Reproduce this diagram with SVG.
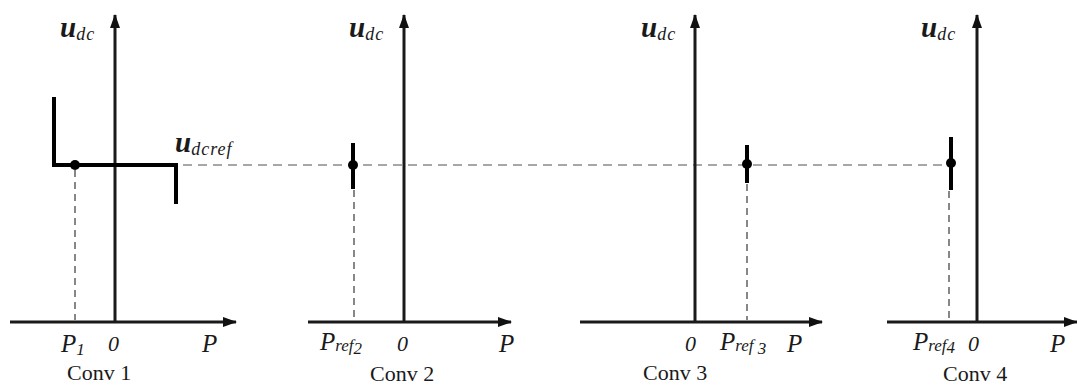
<svg xmlns="http://www.w3.org/2000/svg" width="1077" height="385" viewBox="0 0 1077 385">
<style>
.ax{stroke:#1a1a1a;stroke-width:3;fill:none}
.ch{stroke:#000;stroke-width:4;fill:none}
.dh{stroke:#8a8a8a;stroke-width:1.6;stroke-dasharray:9 6;fill:none}
.dv{stroke:#555;stroke-width:1.4;stroke-dasharray:7 5;fill:none}
.it{font-family:"Liberation Serif","Times New Roman",serif;font-style:italic;fill:#1a1a1a}
.rm{font-family:"Liberation Serif","Times New Roman",serif;fill:#1a1a1a;font-size:22px}
.u{font-size:29px;font-weight:bold}
.sb{font-size:18px;letter-spacing:1px}
.ps{font-size:17px}
.p{font-size:25px}
.z{font-size:22px}
</style>
<defs>
<marker id="ah" viewBox="0 0 14 10" refX="13" refY="5" markerWidth="14" markerHeight="10" markerUnits="userSpaceOnUse" orient="auto">
<path d="M0,0 L14,5 L0,10 Z" fill="#111"/>
</marker>
</defs>
<rect width="1077" height="385" fill="#fff"/>
<g id="connectors">
<line class="dh" x1="183" y1="165" x2="946" y2="165"/>
</g>
<g id="conv1">
<line class="ax" x1="10" y1="322" x2="236" y2="322" marker-end="url(#ah)"/>
<line class="ax" x1="115" y1="322" x2="115" y2="15" marker-end="url(#ah)"/>
<polyline class="ch" points="54,97 54,165 176,165 176,204"/>
<line class="dv" x1="75" y1="170" x2="75" y2="320"/>
<circle cx="75" cy="165" r="5" fill="#000"/>
<text class="it" x="60" y="37"><tspan class="u">u</tspan><tspan class="sb" dy="3">dc</tspan></text>
<text class="it" x="175" y="152"><tspan class="u">u</tspan><tspan class="sb" dy="3">dcref</tspan></text>
<text class="it p" x="61" y="352">P<tspan class="ps" dy="3">1</tspan></text>
<text class="it z" x="108" y="351">0</text>
<text class="it p" x="202" y="352">P</text>
<text class="rm" x="67" y="380">Conv 1</text>
</g>
<g id="conv2">
<line class="ax" x1="308" y1="322" x2="511" y2="322" marker-end="url(#ah)"/>
<line class="ax" x1="404" y1="322" x2="404" y2="15" marker-end="url(#ah)"/>
<line class="ch" x1="353" y1="143" x2="353" y2="189"/>
<line class="dv" x1="354" y1="190" x2="354" y2="320"/>
<circle cx="353" cy="165" r="5" fill="#000"/>
<text class="it" x="349" y="37"><tspan class="u">u</tspan><tspan class="sb" dy="3">dc</tspan></text>
<text class="it p" x="320" y="350">P<tspan class="ps" dy="1">ref</tspan><tspan class="ps" dy="3">2</tspan></text>
<text class="it z" x="397" y="351">0</text>
<text class="it p" x="499" y="352">P</text>
<text class="rm" x="370" y="381">Conv 2</text>
</g>
<g id="conv3">
<line class="ax" x1="580" y1="322" x2="822" y2="322" marker-end="url(#ah)"/>
<line class="ax" x1="695" y1="322" x2="695" y2="15" marker-end="url(#ah)"/>
<line class="ch" x1="747" y1="145" x2="747" y2="183"/>
<line class="dv" x1="747" y1="184" x2="747" y2="320"/>
<circle cx="747" cy="164" r="5" fill="#000"/>
<text class="it" x="641" y="37"><tspan class="u">u</tspan><tspan class="sb" dy="3">dc</tspan></text>
<text class="it z" x="685" y="351">0</text>
<text class="it p" x="720" y="350">P<tspan class="ps" dy="1">ref</tspan><tspan class="ps" dy="3"> 3</tspan></text>
<text class="it p" x="787" y="352">P</text>
<text class="rm" x="643" y="380">Conv 3</text>
</g>
<g id="conv4">
<line class="ax" x1="887" y1="322" x2="1077" y2="322" marker-end="url(#ah)"/>
<line class="ax" x1="977" y1="322" x2="977" y2="15" marker-end="url(#ah)"/>
<line class="ch" x1="951" y1="137" x2="951" y2="190"/>
<line class="dv" x1="949" y1="191" x2="949" y2="320"/>
<circle cx="951" cy="163" r="5" fill="#000"/>
<text class="it" x="921" y="37"><tspan class="u">u</tspan><tspan class="sb" dy="3">dc</tspan></text>
<text class="it p" x="913" y="350">P<tspan class="ps" dy="1">ref</tspan><tspan class="ps" dy="2">4</tspan></text>
<text class="it z" x="968" y="351">0</text>
<text class="it p" x="1050" y="352">P</text>
<text class="rm" x="943" y="381">Conv 4</text>
</g>
</svg>
